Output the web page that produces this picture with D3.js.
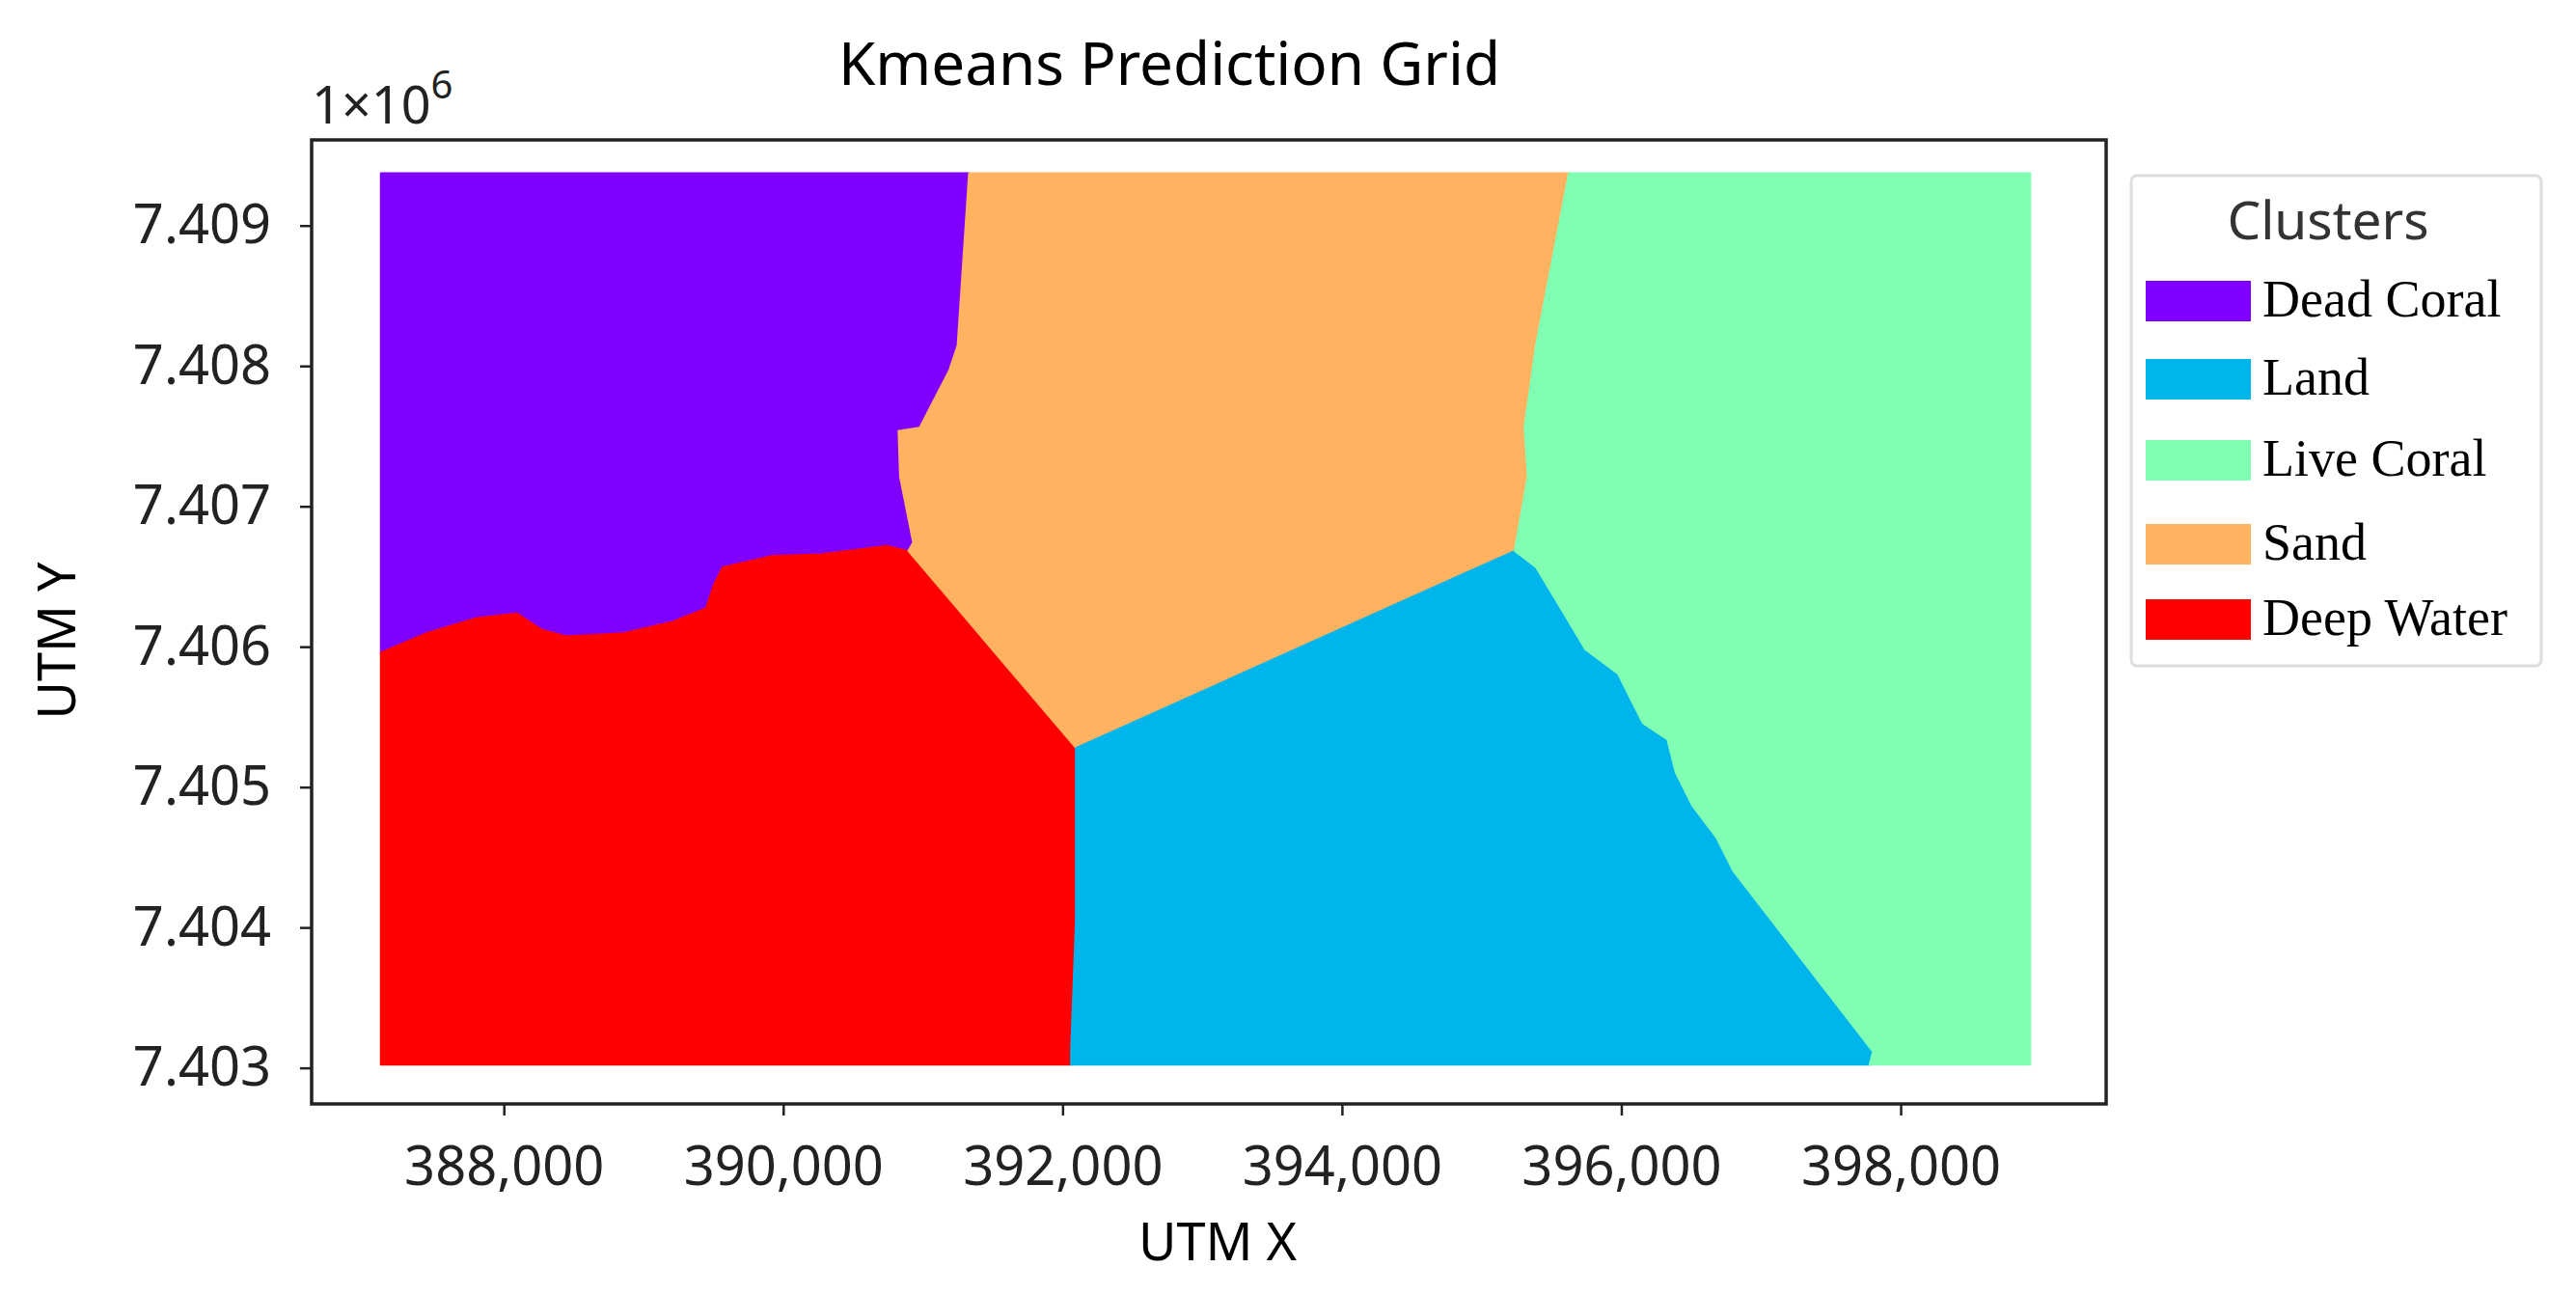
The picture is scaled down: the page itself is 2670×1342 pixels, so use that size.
<!DOCTYPE html>
<html><head><meta charset="utf-8">
<script src="https://cdn.jsdelivr.net/npm/d3@7"></script>
<style>body{margin:0;background:#fff}</style>
</head><body>
<svg id="chart" width="2670" height="1342"></svg>
<script>
// grid extent (UTM X, UTM Y in millions)
var xMin = 387118, xMax = 398929, yMin = 7.403022, yMax = 7.409374;
var xTicks = [388000, 390000, 392000, 394000, 396000, 398000];
var yTicks = [7.403, 7.404, 7.405, 7.406, 7.407, 7.408, 7.409];
var clusters = ["Dead Coral", "Land", "Live Coral", "Sand", "Deep Water"];
var colors = ["#8000ff", "#00b5eb", "#80ffb4", "#ffb360", "#ff0000"];

// cluster boundaries
var sandDead = [[391329,7.409374],[391247,7.408146],[391188,7.40797],[390976,7.407561],[390824,7.407538],[390835,7.40721],[390929,7.406742],[390894,7.406683]];
var deadWater = [[387118,7.405958],[387447,7.406098],[387800,7.406204],[388094,7.406239],[388271,7.406122],[388447,7.406075],[388859,7.406098],[389212,7.40618],[389447,7.406274],[389506,7.406449],[389565,7.406566],[389918,7.406648],[390271,7.40666],[390741,7.406719],[390894,7.406683]];
var waterLand = [[392094,7.405279],[392094,7.404051],[392059,7.403115],[392059,7.403022]];
var sandLive = [[395624,7.409374],[395388,7.408146],[395306,7.407561],[395329,7.40721],[395235,7.406683]];
var landLive = [[395235,7.406683],[395388,7.406566],[395565,7.406274],[395741,7.405981],[395976,7.405806],[396153,7.405455],[396329,7.405338],[396388,7.405104],[396506,7.40487],[396682,7.404636],[396800,7.404402],[397800,7.403115],[397776,7.403022]];

var rev = function(a){ return a.slice().reverse(); };
var polys = [
  {c: 0, pts: [[xMin,yMax]].concat(sandDead, rev(deadWater))},
  {c: 4, pts: deadWater.concat(waterLand, [[xMin,yMin]])},
  {c: 3, pts: sandDead.concat(waterLand.slice(0,1), rev(sandLive))},
  {c: 1, pts: waterLand.concat(rev(landLive))},
  {c: 2, pts: sandLive.concat(landLive.slice(1), [[xMax,yMin],[xMax,yMax]])}
];

var svg = d3.select("#chart");
var L = 323, R = 2183, T = 145, B = 1144;
var x = d3.scaleLinear().domain([386624, 399471]).range([L, R]);
var y = d3.scaleLinear().domain([7.402743, 7.40961]).range([B, T]);
var line = d3.line().x(function(d){return x(d[0]);}).y(function(d){return y(d[1]);});

svg.append("g").selectAll("path").data(polys).join("path")
  .attr("d", function(d){ return line(d.pts) + "Z"; })
  .attr("fill", function(d){ return colors[d.c]; })
  .attr("stroke", function(d){ return colors[d.c]; })
  .attr("stroke-width", 1.5);

var font = "'Noto Sans', sans-serif";
var xa = svg.append("g").attr("transform", "translate(0," + B + ")")
  .call(d3.axisBottom(x).tickValues(xTicks).tickFormat(d3.format(",")).tickSize(12).tickPadding(32));
var ya = svg.append("g").attr("transform", "translate(" + L + ",0)")
  .call(d3.axisLeft(y).tickValues(yTicks).tickFormat(d3.format(".3f")).tickSize(12).tickPadding(30));
[xa, ya].forEach(function(a){
  a.select(".domain").remove();
  a.selectAll("line").attr("stroke", "#222").attr("stroke-width", 2.5);
  a.selectAll("text").attr("font-family", font).attr("font-size", 56).attr("fill", "#222");
});
svg.append("rect").attr("x", L).attr("y", T).attr("width", R - L).attr("height", B - T)
  .attr("fill", "none").attr("stroke", "#222").attr("stroke-width", 3.5);

svg.append("text").attr("x", 1212).attr("y", 88).attr("text-anchor", "middle")
  .attr("font-family", font).attr("font-size", 62).text("Kmeans Prediction Grid");
var ex = svg.append("text").attr("x", 323).attr("y", 128).attr("font-family", font).attr("font-size", 54).attr("fill", "#222");
ex.append("tspan").text("1×10");
ex.append("tspan").attr("dy", -26).attr("font-size", 40).text("6");
svg.append("text").attr("x", 1262).attr("y", 1306).attr("text-anchor", "middle")
  .attr("font-family", font).attr("font-size", 54).text("UTM X");
svg.append("text").attr("transform", "translate(78,664) rotate(-90)").attr("text-anchor", "middle")
  .attr("font-family", font).attr("font-size", 54).text("UTM Y");

// legend
var lg = svg.append("g");
lg.append("rect").attr("x", 2209).attr("y", 182).attr("width", 425).attr("height", 508).attr("rx", 6)
  .attr("fill", "#fff").attr("stroke", "#ddd").attr("stroke-width", 3);
lg.append("text").attr("x", 2413).attr("y", 248).attr("text-anchor", "middle")
  .attr("font-family", font).attr("font-size", 55).attr("fill", "#333").text("Clusters");
var ly = [312, 393, 477, 564, 642];
var items = lg.selectAll("g.it").data(clusters).join("g").attr("class", "it")
  .attr("transform", function(d, i){ return "translate(2224," + ly[i] + ")"; });
items.append("rect").attr("x", 0).attr("y", -21).attr("width", 109).attr("height", 42)
  .attr("fill", function(d, i){ return colors[i]; });
items.append("text").attr("x", 121).attr("y", 16).attr("font-family", "'Liberation Serif', serif")
  .attr("font-size", 54).text(function(d){ return d; });
</script>
</body></html>
